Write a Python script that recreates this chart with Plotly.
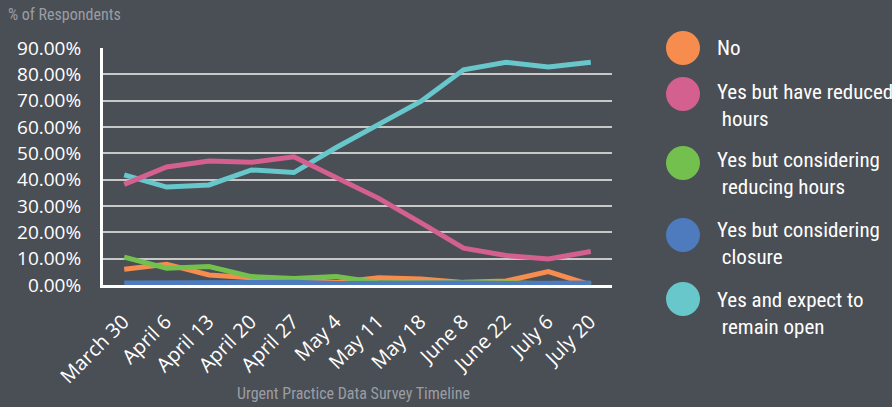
import plotly.graph_objects as go

categories = ["March 30", "April 6", "April 13", "April 20", "April 27", "May 4",
              "May 11", "May 18", "June 8", "June 22", "July 6", "July 20"]

no_vals = [6.0, 7.9, 3.8, 2.8, 2.3, 1.0, 2.8, 2.3, 1.0, 1.5, 5.1, 0.0]
reduced_vals = [38.2, 44.8, 47.1, 46.6, 48.7, 41.0, 32.9, 23.6, 14.0, 11.2, 9.9, 12.7]
considering_reduce_vals = [10.6, 6.4, 7.0, 3.2, 2.5, 3.2, 0.9, 1.0, 1.0, 0.9, 0.5, 0.5]
closure_vals = [0.8, 0.8, 1.2, 1.0, 1.0, 0.6, 0.8, 1.0, 0.8, 0.6, 0.5, 0.8]
remain_open_vals = [41.8, 37.2, 38.0, 43.7, 42.7, 52.2, 61.0, 69.8, 81.7, 84.6, 82.8, 84.6]

series_names = ["No", "Yes but have reduced<br> hours", "Yes but considering<br> reducing hours",
                "Yes but considering<br> closure", "Yes and expect to<br> remain open"]
series_vals = [no_vals, reduced_vals, considering_reduce_vals, closure_vals, remain_open_vals]
series_colors = ["#f78c4f", "#d3608f", "#74c04f", "#4d7bbd", "#67c7cb"]

y_ticks = [0, 10, 20, 30, 40, 50, 60, 70, 80, 90]

BG = "#4a4e55"
L, R, T, B = 103, 280, 48, 122
W, H = 892, 407
PW, PH = W - L - R, H - T - B


def px_x(x):
    return (x - L) / PW


def px_y(y):
    return (H - B - y) / PH


fig = go.Figure()

order = [4, 1, 0, 2, 3]
for i in order:
    fig.add_trace(go.Scatter(
        x=categories, y=[v / 100 for v in series_vals[i]],
        mode="lines", line=dict(color=series_colors[i], width=5),
        name=series_names[i].replace("<br>", ""), showlegend=False,
        hoverinfo="x+y+name"))

# manual legend with large circles
circle_y = [48, 94, 163, 235, 299]
text_y = [48, 92, 160, 230, 300]
LEG_FONT = "Liberation Sans Narrow, Roboto Condensed, Roboto, sans-serif"
for name, color, cy, ty in zip(series_names, series_colors, circle_y, text_y):
    fig.add_shape(type="circle", xref="paper", yref="paper",
                  xsizemode="pixel", ysizemode="pixel",
                  xanchor=px_x(683), yanchor=px_y(cy),
                  x0=-17, x1=17, y0=-17, y1=17,
                  fillcolor=color, line=dict(width=0), layer="above")
    fig.add_annotation(xref="paper", yref="paper",
                       x=px_x(715), y=px_y(ty - 14),
                       text=name, showarrow=False, xanchor="left", yanchor="top",
                       align="left",
                       font=dict(family=LEG_FONT, size=21, color="#ffffff"))

fig.add_annotation(xref="paper", yref="paper", x=px_x(6), y=px_y(15),
                   text="% of Respondents", showarrow=False, xanchor="left", yanchor="middle",
                   font=dict(family=LEG_FONT, size=16, color="#9a9ea4"))
fig.add_annotation(xref="paper", yref="paper", x=px_x(353), y=px_y(393),
                   text="Urgent Practice Data Survey Timeline", showarrow=False,
                   xanchor="center", yanchor="middle",
                   font=dict(family=LEG_FONT, size=16, color="#9a9ea4"))

fig.update_layout(
    width=W, height=H,
    margin=dict(l=L, r=R, t=T, b=B),
    paper_bgcolor=BG, plot_bgcolor=BG,
    showlegend=False,
    font=dict(family="Open Sans, sans-serif", color="#ffffff"),
    xaxis=dict(type="category", range=[-0.5, len(categories) - 0.5],
               tickangle=-45, showgrid=False,
               showline=True, linecolor="#ffffff", linewidth=3,
               ticks="", tickfont=dict(size=20, color="#ffffff"),
               ticklabelstandoff=14, ticklabelshift=-1,
               zeroline=False, fixedrange=True),
    yaxis=dict(range=[0, 0.9], tickvals=[t / 100 for t in y_ticks],
               tickformat=".2%", showgrid=True, gridcolor="#c8c8c8", gridwidth=2,
               showline=True, linecolor="#ffffff", linewidth=3,
               zeroline=False, ticks="", tickfont=dict(size=19, color="#ffffff"),
               ticklabelstandoff=15, fixedrange=True),
)

fig.write_html("out.html", config={"displayModeBar": False},
               post_script="document.body.style.margin='0px';document.body.style.padding='0px';")
